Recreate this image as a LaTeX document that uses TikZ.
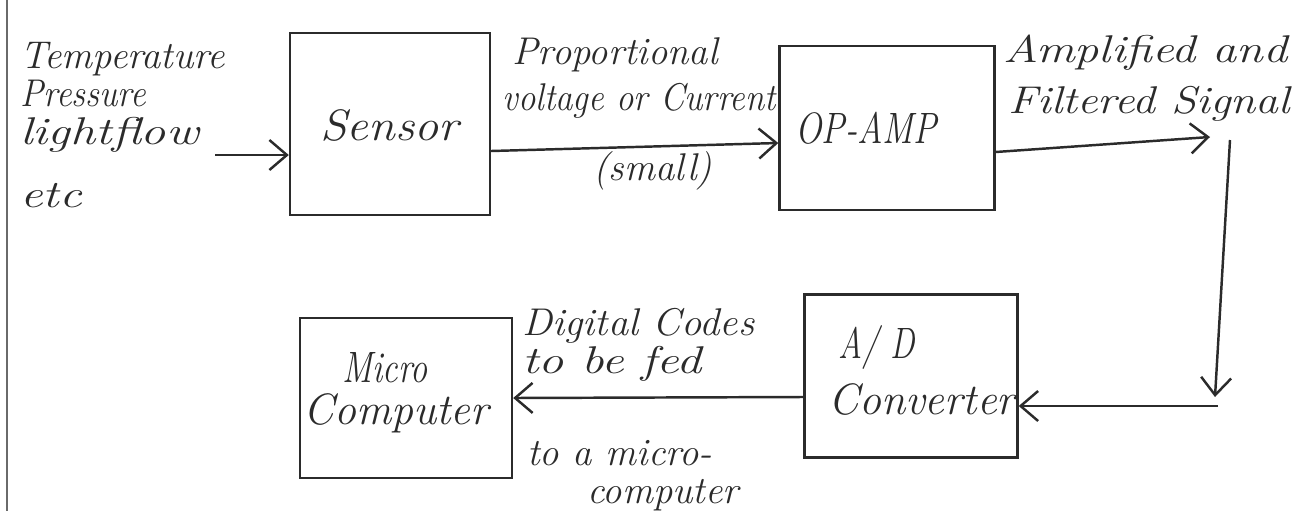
\documentclass[tikz,border=0pt]{standalone}
\usepackage{graphicx}
\usetikzlibrary{arrows.meta}
\definecolor{ink}{HTML}{2B2B2B}
\definecolor{edge}{HTML}{6A6A6A}
% horizontally stretched handwriting-like text
\newcommand{\hw}[2]{\scalebox{#1}[1]{#2}}
\tikzset{
  blk/.style={draw=ink, line width=1.4pt, rectangle, inner sep=0pt},
  hand/.style={text=ink, inner sep=0pt, anchor=base west,
               font=\fontsize{22}{26}\selectfont\itshape},
  big/.style={hand, font=\fontsize{25}{29}\selectfont\itshape},
  arr/.style={draw=ink, line width=1.4pt,
              -{Straight Barb[length=3.5mm, width=6mm, line width=1.4pt]}},
  wire/.style={draw=ink, line width=1.4pt}
}
\begin{document}
\begin{tikzpicture}[x=0.02cm, y=-0.02cm]
  \path[use as bounding box] (0,0) rectangle (1309,511);
  % page margin rule
  \draw[edge, line width=1.1pt] (7,0) -- (7,511);

  % blocks
  \node[blk, minimum width=4.0cm, minimum height=3.64cm] (sensor) at (390,124) {};
  \node[blk, minimum width=4.3cm, minimum height=3.28cm] (opamp) at (887,128) {};
  \node[blk, minimum width=4.26cm, minimum height=3.26cm] (adc) at (911,376) {};
  \node[blk, minimum width=4.24cm, minimum height=3.2cm] (micro) at (406,398) {};

  % block labels
  \node[big] (tsensor) at (320,140) {\hw{1.1}{Sensor}};
  \node[big] (topamp) at (795,143) {\hw{0.8}{OP-AMP}};
  \node[big] (tad) at (838,358) {\hw{0.75}{A/ D}};
  \node[big] (tconv) at (828,414) {Converter};
  \node[big] (tmicro) at (342,382) {\hw{0.78}{Micro}};
  \node[big] (tcomp) at (303,424) {Computer};

  % physical quantities
  \node[hand] (q1) at (20,68) {Temperature};
  \node[hand] (q2) at (20,106) {\hw{0.9}{Pressure}};
  \node[hand] (q3) at (20,144) {\hw{1.3}{lightflow}};
  \node[hand] (q4) at (20,207) {\hw{1.3}{etc}};
  \coordinate (qin) at (215,155);
  \draw[arr] (qin) -- (sensor.west |- qin);

  % sensor to op-amp
  \node[hand] (p1) at (512,64) {Proportional};
  \node[hand] (p2) at (502,110) {\hw{0.9}{voltage or Current}};
  \node[hand] (p3) at (593,180) {(small)};
  \draw[arr] (sensor.east |- 0,151) -- (opamp.west |- 0,143);

  % op-amp output
  \node[hand] (a1) at (1003,62) {\hw{1.25}{Amplified and}};
  \node[hand] (a2) at (1008,113) {\hw{1.18}{Filtered Signal}};
  \coordinate (aout) at (1210,137);
  \draw[arr] (opamp.east |- 0,152) -- (aout);

  % down and back to the converter
  \coordinate (dtop) at (1230,140);
  \coordinate (dbot) at (1215,397);
  \draw[arr] (dtop) -- (dbot);
  \coordinate (rin) at (1218,406);
  \draw[arr] (rin) -- (adc.east |- rin);

  % converter to micro computer
  \node[hand] (d1) at (522,335) {\hw{1.05}{Digital Codes}};
  \node[hand] (d2) at (522,373) {\hw{1.3}{to be fed}};
  \node[hand] (d3) at (527,465) {to a micro-};
  \node[hand] (d4) at (587,503) {computer};
  \draw[arr] (adc.west |- 0,397) -- (micro.east |- 0,398);
\end{tikzpicture}
\end{document}
